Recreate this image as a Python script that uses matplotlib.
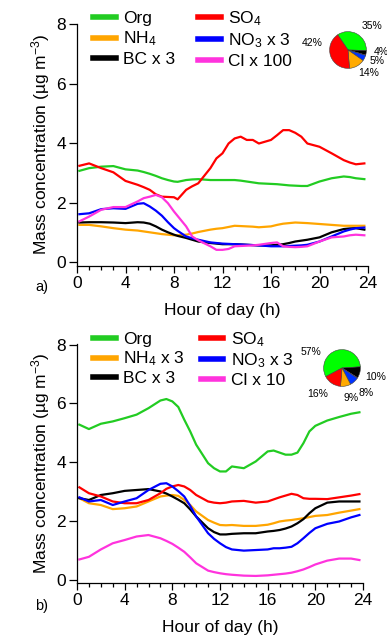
import numpy as np
import matplotlib
matplotlib.use("Agg")
import matplotlib.pyplot as plt
from matplotlib.ticker import MultipleLocator

plt.rcParams['font.family'] = ['Liberation Sans', 'DejaVu Sans']
plt.rcParams['mathtext.fontset'] = 'custom'
plt.rcParams['mathtext.rm'] = 'Liberation Sans'
plt.rcParams['mathtext.it'] = 'Liberation Sans:italic'
plt.rcParams['mathtext.bf'] = 'Liberation Sans:bold'

# ---------------- Panel a data ----------------
hours_a = [0.2, 1, 2, 3, 4, 5, 5.5, 6, 6.5, 7, 7.5, 8, 8.3, 9, 9.5, 10, 11, 11.5, 12, 12.5,
           13, 13.5, 14, 14.5, 15, 16, 16.5, 17, 17.5, 18, 18.5, 19, 20, 21, 22, 22.5, 23, 23.7]
org_a = [3.07, 3.16, 3.21, 3.23, 3.12, 3.08, 3.03, 2.97, 2.90, 2.82, 2.76, 2.71, 2.70, 2.76, 2.78,
         2.79, 2.76, 2.76, 2.76, 2.76, 2.76, 2.74, 2.71, 2.68, 2.65, 2.63, 2.62, 2.60, 2.58, 2.57,
         2.56, 2.56, 2.71, 2.82, 2.88, 2.86, 2.82, 2.79]
so4_a = [3.24, 3.32, 3.16, 3.02, 2.73, 2.60, 2.52, 2.43, 2.28, 2.20, 2.19, 2.18, 2.11, 2.43, 2.55,
         2.65, 3.16, 3.49, 3.66, 3.99, 4.16, 4.22, 4.11, 4.11, 3.99, 4.11, 4.27, 4.44, 4.44, 4.35,
         4.22, 3.99, 3.88, 3.66, 3.43, 3.35, 3.29, 3.32]
nh4_a = [1.25, 1.25, 1.20, 1.14, 1.09, 1.06, 1.03, 1.00, 0.97, 0.94, 0.92, 0.90, 0.90, 0.92, 0.96,
         1.01, 1.09, 1.12, 1.14, 1.18, 1.22, 1.21, 1.20, 1.19, 1.17, 1.20, 1.25, 1.29, 1.31, 1.33,
         1.32, 1.31, 1.28, 1.25, 1.22, 1.22, 1.22, 1.22]
no3_a = [1.61, 1.64, 1.78, 1.81, 1.79, 1.96, 1.98, 1.87, 1.73, 1.56, 1.34, 1.14, 1.05, 0.86, 0.80,
         0.75, 0.66, 0.64, 0.62, 0.61, 0.60, 0.59, 0.58, 0.57, 0.56, 0.53, 0.53, 0.53, 0.54, 0.55,
         0.56, 0.58, 0.69, 0.86, 1.03, 1.09, 1.14, 1.16]
bc_a = [1.33, 1.34, 1.34, 1.33, 1.31, 1.34, 1.33, 1.29, 1.20, 1.09, 1.00, 0.92, 0.88, 0.81, 0.75,
        0.69, 0.64, 0.62, 0.60, 0.60, 0.60, 0.59, 0.58, 0.57, 0.56, 0.56, 0.58, 0.60, 0.64, 0.69,
        0.72, 0.75, 0.83, 1.00, 1.11, 1.13, 1.14, 1.09]
cl_a = [1.37, 1.53, 1.76, 1.85, 1.85, 2.04, 2.15, 2.20, 2.26, 2.18, 1.98, 1.70, 1.55, 1.20, 0.86,
        0.73, 0.53, 0.41, 0.41, 0.44, 0.53, 0.54, 0.55, 0.56, 0.58, 0.64, 0.66, 0.53, 0.51, 0.50,
        0.51, 0.53, 0.69, 0.83, 0.86, 0.90, 0.92, 0.90]

# ---------------- Panel b data ----------------
hours_b = [0.2, 1, 2, 3, 4, 5, 6, 7, 7.5, 8, 8.5, 9, 9.5, 10, 11, 11.5, 12, 12.5, 13, 14, 15,
           16, 16.5, 17, 17.5, 18, 18.5, 19, 19.5, 20, 21, 22, 23, 23.7]
org_b = [5.28, 5.13, 5.31, 5.39, 5.50, 5.62, 5.84, 6.10, 6.15, 6.07, 5.88, 5.45, 5.05, 4.60, 3.97,
         3.80, 3.69, 3.69, 3.86, 3.80, 4.03, 4.37, 4.40, 4.33, 4.26, 4.26, 4.33, 4.65, 5.05, 5.24,
         5.42, 5.54, 5.65, 5.70]
so4_b = [3.15, 2.95, 2.84, 2.67, 2.61, 2.61, 2.72, 2.95, 3.10, 3.18, 3.23, 3.18, 3.06, 2.89, 2.67,
         2.63, 2.61, 2.63, 2.67, 2.69, 2.63, 2.67, 2.74, 2.81, 2.87, 2.93, 2.89, 2.78, 2.76, 2.76,
         2.75, 2.81, 2.87, 2.92]
nh4_b = [2.78, 2.61, 2.55, 2.41, 2.44, 2.50, 2.67, 2.84, 2.87, 2.89, 2.86, 2.72, 2.55, 2.33, 2.04,
         1.95, 1.87, 1.86, 1.87, 1.84, 1.84, 1.88, 1.93, 1.99, 2.02, 2.04, 2.07, 2.10, 2.14, 2.18,
         2.21, 2.29, 2.36, 2.41]
bc_b = [2.78, 2.72, 2.89, 2.95, 3.03, 3.06, 3.09, 3.01, 2.94, 2.84, 2.73, 2.61, 2.40, 2.16, 1.76,
        1.63, 1.55, 1.55, 1.57, 1.59, 1.59, 1.65, 1.67, 1.70, 1.75, 1.82, 1.93, 2.07, 2.27, 2.44,
        2.63, 2.67, 2.67, 2.67]
no3_b = [2.81, 2.67, 2.72, 2.55, 2.67, 2.78, 3.06, 3.27, 3.29, 3.18, 3.02, 2.84, 2.52, 2.16, 1.59,
         1.40, 1.25, 1.12, 1.04, 1.00, 1.02, 1.04, 1.08, 1.08, 1.10, 1.13, 1.25, 1.42, 1.60, 1.76,
         1.91, 1.99, 2.13, 2.21]
cl_b = [0.70, 0.79, 1.04, 1.25, 1.36, 1.48, 1.53, 1.42, 1.33, 1.23, 1.10, 0.96, 0.77, 0.57, 0.32,
        0.27, 0.23, 0.20, 0.18, 0.15, 0.14, 0.16, 0.18, 0.20, 0.22, 0.25, 0.30, 0.36, 0.44, 0.53,
        0.66, 0.73, 0.73, 0.68]

# ---------------- Pie data ----------------
pie_labels = ['Org', 'BC', 'Cl', 'NO3', 'NH4', 'SO4']
pie_a = [35, 4, 0.3, 5, 14, 42]
pie_b = [57, 10, 0.5, 8, 9, 16]
pie_colors = ['#00ff00', '#000000', '#ff33cc', '#0033ff', '#ffaa00', '#ff0000']

col = {'Org': '#22cc22', 'SO4': '#ff0000', 'NH4': '#ffa500',
       'NO3': '#0000ff', 'BC': '#000000', 'Cl': '#ff33dd'}

W, H = 387, 644
fig = plt.figure(figsize=(W / 100, H / 100), dpi=100)

FS = 12.5


def setup_axis(ax):
    ax.set_xlim(0, 24)
    ax.spines['top'].set_visible(False)
    ax.spines['right'].set_visible(False)
    ax.xaxis.set_major_locator(MultipleLocator(4))
    ax.xaxis.set_minor_locator(MultipleLocator(1))
    ax.yaxis.set_major_locator(MultipleLocator(2))
    ax.tick_params(axis='x', which='major', length=5, width=0.9, labelsize=FS, pad=2)
    ax.tick_params(axis='x', which='minor', length=3, width=0.9)
    ax.tick_params(axis='y', which='major', length=6, width=0.9, labelsize=FS, pad=2)
    for s in ('left', 'bottom'):
        ax.spines[s].set_linewidth(0.9)
    ax.set_xlabel('Hour of day (h)', fontsize=FS, labelpad=9)
    ax.set_ylabel('Mass concentration (µg m$^{-3}$)', fontsize=FS, labelpad=3)


def px(x, y):
    return x / W, 1 - y / H


# Panel a
axa = fig.add_axes([77 / W, 1 - 266 / H, 291 / W, 242.5 / H])
axa.set_ylim(-0.134, 8.03)
lw = 1.6
la = [
    axa.plot(hours_a, org_a, color=col['Org'], lw=lw, label='Org')[0],
    axa.plot(hours_a, nh4_a, color=col['NH4'], lw=lw, label='NH$_4$')[0],
    axa.plot(hours_a, bc_a, color=col['BC'], lw=lw, label='BC x 3')[0],
    axa.plot(hours_a, so4_a, color=col['SO4'], lw=lw, label='SO$_4$')[0],
    axa.plot(hours_a, no3_a, color=col['NO3'], lw=lw, label='NO$_3$ x 3')[0],
    axa.plot(hours_a, cl_a, color=col['Cl'], lw=lw, label='Cl x 100')[0],
]
setup_axis(axa)
leg = axa.legend(handles=la, ncol=2, loc='center left', bbox_to_anchor=px(93, 39),
                 bbox_transform=fig.transFigure, frameon=False, fontsize=FS,
                 borderpad=0, borderaxespad=0, handlelength=1.3, handletextpad=0.45,
                 columnspacing=1.3, labelspacing=0.2)
for h in leg.legend_handles:
    h.set_linewidth(4)

# Panel b
axb = fig.add_axes([77 / W, 1 - 583 / H, 286 / W, 239 / H])
axb.set_ylim(-0.1, 8.02)
lb = [
    axb.plot(hours_b, org_b, color=col['Org'], lw=lw, label='Org')[0],
    axb.plot(hours_b, nh4_b, color=col['NH4'], lw=lw, label='NH$_4$ x 3')[0],
    axb.plot(hours_b, bc_b, color=col['BC'], lw=lw, label='BC x 3')[0],
    axb.plot(hours_b, so4_b, color=col['SO4'], lw=lw, label='SO$_4$')[0],
    axb.plot(hours_b, no3_b, color=col['NO3'], lw=lw, label='NO$_3$ x 3')[0],
    axb.plot(hours_b, cl_b, color=col['Cl'], lw=lw, label='Cl x 10')[0],
]
setup_axis(axb)
legb = axb.legend(handles=lb, ncol=2, loc='center left', bbox_to_anchor=px(93, 359),
                  bbox_transform=fig.transFigure, frameon=False, fontsize=FS,
                  borderpad=0, borderaxespad=0, handlelength=1.3, handletextpad=0.45,
                  columnspacing=0.9, labelspacing=0.15)
for h in legb.legend_handles:
    h.set_linewidth(4)

# panel labels
fig.text(*px(42, 287), 'a)', fontsize=10.5, ha='center', va='center')
fig.text(*px(42, 606), 'b)', fontsize=10.5, ha='center', va='center')

# Pie insets
R = 23
wp = dict(edgecolor='#444444', linewidth=0.4)
pa = fig.add_axes([(348 - R) / W, 1 - (50 + R) / H, 2 * R / W, 2 * R / H])
pa.pie(pie_a, colors=pie_colors, startangle=124, counterclock=False, wedgeprops=wp)
pa.set_aspect('equal')
pb = fig.add_axes([(342 - R) / W, 1 - (368 + R) / H, 2 * R / W, 2 * R / H])
pb.pie(pie_b, colors=pie_colors, startangle=208, counterclock=False, wedgeprops=wp)
pb.set_aspect('equal')

PFS = 7.5
def pct(v):
    return f'{int(round(v))}%'

fig.text(*px(372, 26), pct(pie_a[0]), fontsize=PFS, ha='center', va='center')
fig.text(*px(312, 43), pct(pie_a[5]), fontsize=PFS, ha='center', va='center')
fig.text(*px(381, 52), pct(pie_a[1]), fontsize=PFS, ha='center', va='center')
fig.text(*px(377, 61), pct(pie_a[3]), fontsize=PFS, ha='center', va='center')
fig.text(*px(369, 73), pct(pie_a[4]), fontsize=PFS, ha='center', va='center')

fig.text(*px(311, 352), pct(pie_b[0]), fontsize=PFS, ha='center', va='center')
fig.text(*px(376, 377), pct(pie_b[1]), fontsize=PFS, ha='center', va='center')
fig.text(*px(318, 394), pct(pie_b[5]), fontsize=PFS, ha='center', va='center')
fig.text(*px(351, 398), pct(pie_b[4]), fontsize=PFS, ha='center', va='center')
fig.text(*px(366, 393), pct(pie_b[3]), fontsize=PFS, ha='center', va='center')

fig.savefig('out.png', dpi=100)
